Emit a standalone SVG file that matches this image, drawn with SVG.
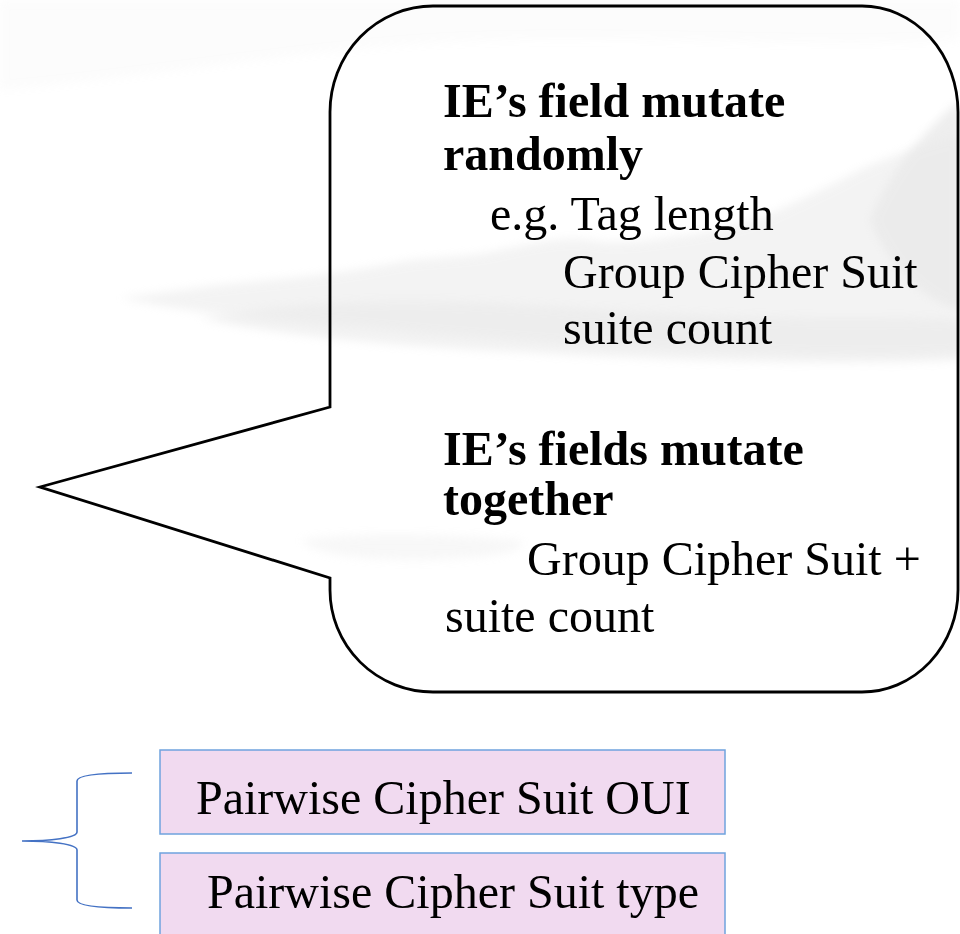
<svg xmlns="http://www.w3.org/2000/svg" width="960" height="934" viewBox="0 0 960 934">
  <defs>
    <filter id="soft" x="-20%" y="-50%" width="140%" height="200%">
      <feGaussianBlur stdDeviation="5"/>
    </filter>
    <style>
      .t { font-family: "Liberation Serif", "Times New Roman", serif; font-size: 48px; fill: #000; }
      .b { font-weight: bold; }
      .callout { fill: none; stroke: #000; stroke-width: 2.8; stroke-linejoin: miter; }
      .box { fill: #F1DAF0; stroke: #6FA3DE; stroke-width: 1.5; }
      .brace { fill: none; stroke: #4472C4; stroke-width: 1.6; }
      .wash { fill: #d4d4d4; filter: url(#soft); }
    </style>
  </defs>

  <rect x="0" y="0" width="960" height="934" fill="#ffffff"/>

  <!-- faint landscape background -->
  <g id="background" opacity="0.5">
    <path class="wash" d="M0,0 H960 V40 C800,50 600,30 400,45 C250,58 120,80 0,90 Z" opacity="0.15"/>
    <path class="wash" d="M120,298 C170,292 220,284 270,280 C320,276 360,270 400,262 C440,256 470,258 500,250 C530,244 560,236 590,240 C620,246 650,240 680,236 C710,232 740,226 770,214 C800,200 830,186 860,170 C890,156 920,146 960,136 V352 C860,358 760,352 660,348 C560,344 460,336 360,326 C260,320 190,312 120,298 Z" opacity="0.55"/>
    <path class="wash" d="M200,318 C300,300 420,298 540,306 C640,312 760,320 900,318 L960,320 V360 C820,366 660,360 520,352 C400,346 280,336 200,318 Z" opacity="0.6"/>
    <path class="wash" d="M870,220 C890,170 925,130 960,100 V310 C925,300 890,270 870,220 Z" opacity="0.8"/>
    <path class="wash" d="M300,540 C360,532 440,534 520,540 C530,550 500,558 420,560 C360,560 315,554 300,540 Z" opacity="0.35"/>
  </g>

  <g id="callout">
    <path class="callout" d="M433,6 H862 A96 106 0 0 1 958 112 V590 A96 102 0 0 1 862 692 H433 A103 102 0 0 1 330 590 V578 L40 487 L330 407 V112 A103 106 0 0 1 433 6 Z"/>
    <text class="t b" x="443" y="117">IE’s field mutate</text>
    <text class="t b" x="443" y="170">randomly</text>
    <text class="t" x="490" y="230">e.g. Tag length</text>
    <text class="t" x="563" y="288">Group Cipher Suit</text>
    <text class="t" x="563" y="344">suite count</text>
    <text class="t b" x="443" y="465">IE’s fields mutate</text>
    <text class="t b" x="443" y="515">together</text>
    <text class="t" x="527" y="575">Group Cipher Suit +</text>
    <text class="t" x="445" y="632">suite count</text>
  </g>

  <g id="connectors">
    <path class="brace" d="M132,773 C100,773 77,775 77,781 V832 C77,838 50,841 22,841 C50,841 77,844 77,850 V900 C77,906 100,908 132,908"/>
  </g>

  <g id="box-oui">
    <rect class="box" x="160" y="750" width="565" height="84"/>
    <text class="t" x="196" y="814">Pairwise Cipher Suit OUI</text>
  </g>

  <g id="box-type">
    <rect class="box" x="160" y="853" width="565" height="84"/>
    <text class="t" x="207" y="908">Pairwise Cipher Suit type</text>
  </g>
</svg>
